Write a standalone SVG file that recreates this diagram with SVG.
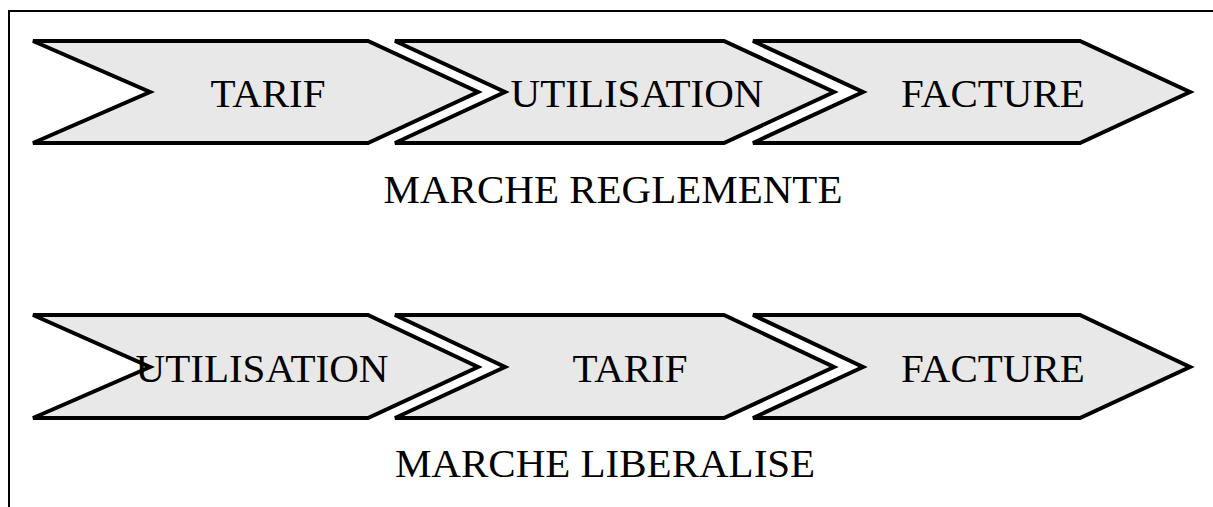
<svg xmlns="http://www.w3.org/2000/svg" width="1213" height="507" viewBox="0 0 1213 507">
<style>
.chev{fill:#e8e8e8;stroke:#000;stroke-width:4;stroke-linejoin:miter}
.lbl{font-family:"Liberation Serif","Times New Roman",serif;font-size:41px;fill:#000;text-anchor:middle}
.frame{fill:none;stroke:#000;stroke-width:2}
</style>
<rect width="1213" height="507" fill="#fff"/>
<g id="frame"><path class="frame" d="M9,507 V11 H1213"/></g>
<g id="row1">
<g id="r1-tarif"><polygon class="chev" points="33,41 368,41 478,92 368,143 33,143 150,92"/><text class="lbl" x="268" y="107">TARIF</text></g>
<g id="r1-utilisation"><polygon class="chev" points="395,41 724,41 834,92 724,143 395,143 505,92"/><text class="lbl" x="637" y="107">UTILISATION</text></g>
<g id="r1-facture"><polygon class="chev" points="753,41 1080,41 1190,92 1080,143 753,143 863,92"/><text class="lbl" x="993" y="107">FACTURE</text></g>
<text id="r1-title" class="lbl" x="613" y="203">MARCHE REGLEMENTE</text>
</g>
<g id="row2">
<g id="r2-utilisation"><polygon class="chev" points="33,315 368,315 478,367 368,418 33,418 150,367"/><text class="lbl" x="262" y="382">UTILISATION</text></g>
<g id="r2-tarif"><polygon class="chev" points="395,315 724,315 834,367 724,418 395,418 505,367"/><text class="lbl" x="630" y="382">TARIF</text></g>
<g id="r2-facture"><polygon class="chev" points="753,315 1080,315 1190,367 1080,418 753,418 863,367"/><text class="lbl" x="993" y="382">FACTURE</text></g>
<text id="r2-title" class="lbl" x="605" y="477">MARCHE LIBERALISE</text>
</g>
<g id="connectors"/>
</svg>
